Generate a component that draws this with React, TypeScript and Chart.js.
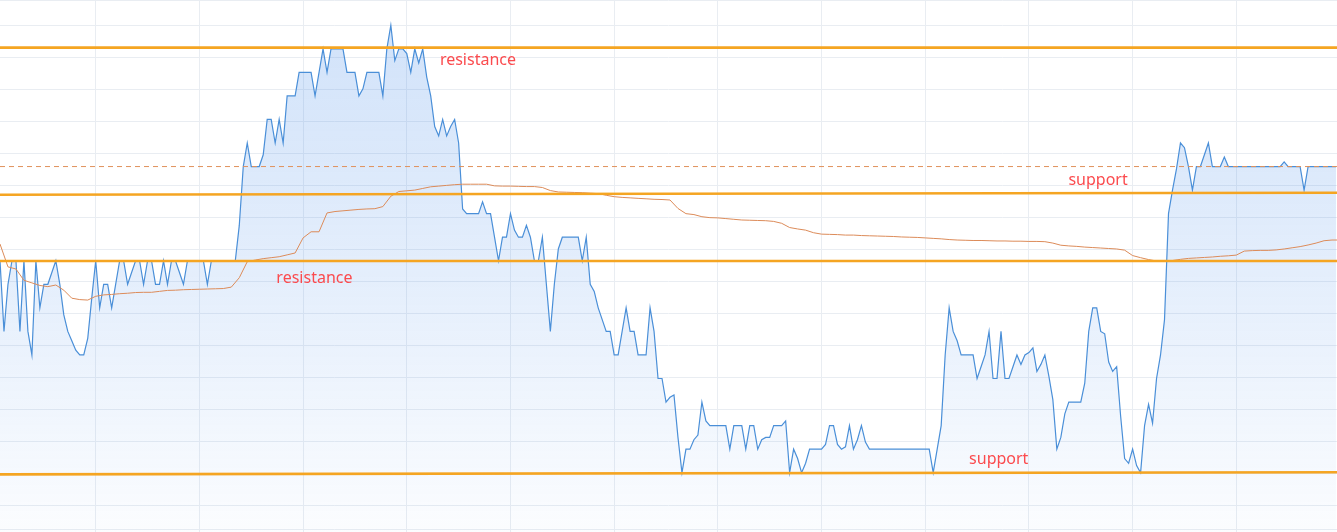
import { useEffect, useRef } from "react";
import { Chart, registerables } from "chart.js";

Chart.register(...registerables);

// Price series (one value per time step), in price-level units
const priceLevels: number[] = [
  9, 6, 8, 9, 9, 6, 9, 6, 5, 9,
  7, 8, 8, 8.5, 9, 8, 6.7, 6, 5.6, 5.2,
  5, 5, 5.7, 7.4, 9, 7, 8, 8, 7, 8,
  9, 9, 8, 8.5, 9, 9, 8, 9, 9, 8,
  8, 9, 8, 9, 9, 8.5, 8, 9, 9, 9,
  9, 9, 8, 9, 9, 9, 9, 9, 9, 9,
  10.5, 13, 14, 13, 13, 13, 13.5, 15, 15, 14,
  15, 14, 16, 16, 16, 17, 17, 17, 17, 16,
  17, 18, 17, 18, 18, 18, 18, 17, 17, 17,
  16, 16.3, 17, 17, 17, 17, 16, 18, 19, 17.5,
  18, 18, 17.8, 17, 18, 17.4, 18, 16.8, 16, 14.7,
  14.3, 15, 14.3, 14.7, 15, 14, 11.2, 11, 11, 11,
  11, 11.5, 11, 11, 10, 9, 10, 10, 11, 10.3,
  10, 10, 10.5, 10, 9, 9, 10, 8, 6, 8,
  9.5, 10, 10, 10, 10, 10, 9, 10, 8, 7.7,
  7, 6.5, 6, 6, 5, 5, 6, 7, 6, 6,
  5, 5, 5, 7, 6, 4, 4, 3, 3.2, 3.3,
  1.5, 0, 1, 1, 1.4, 1.6, 3, 2.2, 2, 2,
  2, 2, 2, 1, 2, 2, 2, 1, 2, 2,
  1, 1.4, 1.5, 1.5, 2, 2, 2, 2.2, 0, 1,
  0.6, 0, 0.4, 1, 1, 1, 1, 1.2, 2, 2,
  1.2, 1, 1.1, 2, 1, 1.4, 2, 1.3, 1, 1,
  1, 1, 1, 1, 1, 1, 1, 1, 1, 1,
  1, 1, 1, 1, 0, 1, 2, 5, 7, 6,
  5.6, 5, 5, 5, 5, 4, 4.5, 5, 6, 4,
  4, 6, 4, 4, 4.5, 5, 4.6, 5, 5.1, 5.3,
  4.3, 4.6, 5, 4.1, 3.1, 1, 1.5, 2.5, 3, 3,
  3, 3, 3.8, 6, 7, 7, 6, 5.9, 4.7, 4.3,
  4.5, 2.4, 0.6, 0.4, 1, 0.3, 0, 2, 2.9, 2.1,
  4, 5, 6.5, 11, 12, 12.9, 14, 13.8, 13, 12,
  13, 13, 13.5, 14, 13, 13, 13, 13.4, 13, 13,
  13, 13, 13, 13, 13, 13, 13, 13, 13, 13,
  13, 13, 13.2, 13, 13, 13, 13, 12, 13, 13,
  13, 13, 13, 13, 13, 13,
];

// Moving average, one value every `maStep` time steps
const maStep = 2;
const movingAverage: number[] = [
  9.71, 8.74, 8.65, 8.17, 8.06, 7.95, 7.90, 7.97, 7.75, 7.41,
  7.35, 7.33, 7.49, 7.55, 7.57, 7.60, 7.62, 7.65, 7.66, 7.66,
  7.70, 7.74, 7.75, 7.77, 7.78, 7.79, 7.80, 7.81, 7.82, 7.88,
  8.28, 8.96, 9.03, 9.09, 9.13, 9.17, 9.25, 9.33, 9.97, 10.23,
  10.23, 11.03, 11.09, 11.12, 11.15, 11.18, 11.20, 11.21, 11.30, 11.74,
  11.94, 11.97, 12.00, 12.07, 12.14, 12.17, 12.20, 12.23, 12.25, 12.25,
  12.25, 12.25, 12.18, 12.17, 12.17, 12.16, 12.15, 12.15, 12.11, 11.98,
  11.92, 11.91, 11.90, 11.89, 11.87, 11.85, 11.78, 11.72, 11.69, 11.67,
  11.65, 11.63, 11.61, 11.60, 11.58, 11.22, 11.00, 10.96, 10.87, 10.83,
  10.82, 10.79, 10.76, 10.73, 10.72, 10.71, 10.70, 10.67, 10.59, 10.41,
  10.35, 10.30, 10.19, 10.13, 10.12, 10.11, 10.09, 10.09, 10.07, 10.06,
  10.05, 10.04, 10.03, 10.01, 10.00, 9.99, 9.97, 9.95, 9.93, 9.90,
  9.88, 9.87, 9.86, 9.86, 9.85, 9.84, 9.84, 9.83, 9.83, 9.82,
  9.82, 9.81, 9.75, 9.66, 9.63, 9.61, 9.58, 9.56, 9.54, 9.52,
  9.50, 9.45, 9.22, 9.13, 9.05, 8.99, 8.97, 9.01, 9.06, 9.10,
  9.12, 9.14, 9.16, 9.19, 9.21, 9.24, 9.41, 9.43, 9.44, 9.44,
  9.46, 9.50, 9.55, 9.60, 9.67, 9.75, 9.85, 9.88, 9.88,
];

// Support / resistance lines (value at first and last time step)
const levelNames = ["resistance", "support", "resistance", "support"];
const levelStart = [18.05, 11.8, 8.99, -0.07];
const levelEnd = [18.05, 11.89, 8.99, 0.02];
const dashedLevel = 13.0;

// Text labels (time step, price level of baseline)
const labelTexts = ["resistance", "resistance", "support", "support"];
const labelTime = [110.3, 69.3, 267.9, 243.0];
const labelLevel = [17.3, 8.04, 12.2, 0.38];

// Axis ranges and grid tick values
const xMin = 0;
const xMax = 335.25;
const yMin = -2.518;
const yMax = 20.072;
const xGridTicks = [24, 50, 76, 102, 128, 154, 180, 206, 232, 258, 284, 310];
const yGridTicks = [
  20.04, 19, 17.641, 16.282, 14.924, 13.565, 12.206, 10.847, 9.488, 8.13,
  6.771, 5.412, 4.053, 2.694, 1.336, -0.023, -1.382, -2.433,
];

const labelPlugin = {
  id: "levelLabels",
  afterDatasetsDraw(chart: any) {
    const { ctx, scales } = chart;
    const xs = scales.x;
    const ys = scales.y;
    ctx.save();
    ctx.font = '16px "Noto Sans", "DejaVu Sans", sans-serif';
    ctx.fillStyle = "#fb4b4e";
    ctx.textAlign = "left";
    ctx.textBaseline = "alphabetic";
    labelTexts.forEach((t, i) => {
      ctx.fillText(t, xs.getPixelForValue(labelTime[i]), ys.getPixelForValue(labelLevel[i]));
    });
    ctx.restore();
  },
};

export default function App() {
  const ref = useRef<HTMLCanvasElement | null>(null);

  useEffect(() => {
    if (!ref.current) return;
    const gridColor = "#e9edf2";
    const levelDatasets = levelNames.map((name, i) => ({
      label: name,
      data: [
        { x: xMin, y: levelStart[i] },
        { x: xMax, y: levelEnd[i] },
      ],
      borderColor: "#f5a522",
      borderWidth: 2.6,
      pointRadius: 0,
      fill: false,
      order: 1,
    }));

    const chart = new Chart(ref.current, {
      type: "line",
      data: {
        datasets: [
          {
            label: "price",
            data: priceLevels.map((v, i) => ({ x: i, y: v })),
            borderColor: "#4a8fd8",
            borderWidth: 1.2,
            pointRadius: 0,
            tension: 0,
            fill: "start",
            backgroundColor: (c: any) => {
              const area = c.chart.chartArea;
              if (!area) return "rgba(58,132,232,0.12)";
              const g = c.chart.ctx.createLinearGradient(0, area.top, 0, area.bottom);
              g.addColorStop(0, "rgba(58,132,232,0.24)");
              g.addColorStop(0.55, "rgba(58,132,232,0.13)");
              g.addColorStop(1, "rgba(58,132,232,0.02)");
              return g;
            },
            order: 5,
          },
          {
            label: "ma",
            data: movingAverage.map((v, j) => ({ x: j * maStep, y: v })),
            borderColor: "#dc8b59",
            borderWidth: 1,
            pointRadius: 0,
            tension: 0,
            fill: false,
            order: 3,
          },
          {
            label: "dashed",
            data: [
              { x: xMin, y: dashedLevel },
              { x: xMax, y: dashedLevel },
            ],
            borderColor: "#e0915c",
            borderWidth: 1,
            borderDash: [5, 4],
            pointRadius: 0,
            fill: false,
            order: 2,
          },
          ...levelDatasets,
        ],
      },
      options: {
        responsive: false,
        animation: false,
        events: [],
        layout: { padding: 0 },
        plugins: {
          legend: { display: false },
          tooltip: { enabled: false },
        },
        scales: {
          x: {
            type: "linear",
            min: xMin,
            max: xMax,
            ticks: { display: false },
            grid: { color: gridColor, drawTicks: false, lineWidth: 1 },
            border: { display: false },
            afterBuildTicks: (s: any) => {
              s.ticks = xGridTicks.map((v) => ({ value: v }));
            },
          },
          y: {
            type: "linear",
            min: yMin,
            max: yMax,
            ticks: { display: false },
            grid: { color: gridColor, drawTicks: false, lineWidth: 1 },
            border: { display: false },
            afterBuildTicks: (s: any) => {
              s.ticks = yGridTicks.map((v) => ({ value: v }));
            },
          },
        },
      },
      plugins: [labelPlugin],
    } as any);

    return () => chart.destroy();
  }, []);

  return (
    <div style={{ position: "absolute", left: 0, top: 0, width: 1337, height: 532 }}>
      <canvas ref={ref} width={1337} height={532} style={{ display: "block" }} />
    </div>
  );
}
